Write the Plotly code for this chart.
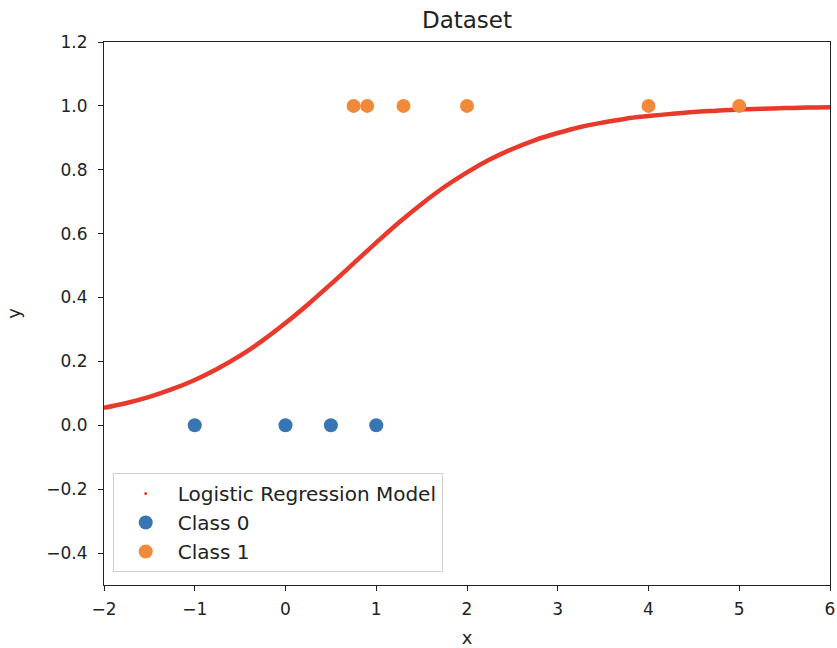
import plotly.graph_objects as go

# Logistic regression curve
curve_x = [-2.0, -1.75, -1.5, -1.25, -1.0, -0.75, -0.5, -0.25, 0.0, 0.25, 0.5, 0.75,
           1.0, 1.25, 1.5, 1.75, 2.0, 2.25, 2.5, 2.75, 3.0, 3.25, 3.5, 3.75,
           4.0, 4.25, 4.5, 4.75, 5.0, 5.25, 5.5, 5.75, 6.0]
curve_y = [0.055, 0.070, 0.089, 0.113, 0.142, 0.177, 0.218, 0.266, 0.320, 0.379, 0.442, 0.507,
           0.572, 0.635, 0.693, 0.746, 0.792, 0.832, 0.865, 0.893, 0.915, 0.934, 0.948, 0.960,
           0.968, 0.975, 0.981, 0.985, 0.989, 0.991, 0.993, 0.995, 0.996]

class0_x = [-1.0, 0.0, 0.5, 1.0]
class0_y = [0, 0, 0, 0]
class1_x = [0.75, 0.9, 1.3, 2.0, 4.0, 5.0]
class1_y = [1, 1, 1, 1, 1, 1]

x_ticks = [-2, -1, 0, 1, 2, 3, 4, 5, 6]
y_ticks = [-0.4, -0.2, 0.0, 0.2, 0.4, 0.6, 0.8, 1.0, 1.2]

RED = "#e8392b"
BLUE = "#3776b2"
ORANGE = "#f18a38"

fig = go.Figure()
fig.add_trace(go.Scatter(x=curve_x, y=curve_y, mode="lines", line=dict(color=RED, width=4.5, shape="spline"),
                         legendgroup="model", showlegend=False, hoverinfo="skip"))
fig.add_trace(go.Scatter(x=curve_x, y=curve_y, mode="markers", marker=dict(color=RED, size=3),
                         legendgroup="model", name="Logistic Regression Model"))
fig.add_trace(go.Scatter(x=class0_x, y=class0_y, mode="markers", marker=dict(color=BLUE, size=14),
                         name="Class 0"))
fig.add_trace(go.Scatter(x=class1_x, y=class1_y, mode="markers", marker=dict(color=ORANGE, size=14),
                         name="Class 1"))

axis_common = dict(showline=True, linecolor="#222", linewidth=1.2, mirror=True, ticks="outside",
                   ticklen=5, tickcolor="#222", showgrid=False, zeroline=False, automargin=False,
                   tickfont=dict(size=17, color="#222"))

fig.update_layout(
    width=837, height=648,
    margin=dict(l=104, r=7, t=42, b=63),
    paper_bgcolor="white", plot_bgcolor="white",
    font=dict(family="DejaVu Sans", color="#222", size=17),
    title=dict(text="Dataset", x=0.5, xref="paper", xanchor="center", y=1 - 20 / 648, yanchor="middle",
               font=dict(size=23)),
    xaxis=dict(range=[-2, 6], tickvals=x_ticks, ticklabelstandoff=3,
               title=dict(text="x", font=dict(size=18), standoff=14), **axis_common),
    yaxis=dict(range=[-0.5, 1.2], tickvals=y_ticks, ticklabelstandoff=7,
               tickformat=".1f", title=dict(text="y", font=dict(size=18), standoff=20), **axis_common),
    legend=dict(x=0.012, y=0.024, xanchor="left", yanchor="bottom", bgcolor="rgba(255,255,255,0.8)",
                bordercolor="#d0d0d0", borderwidth=1, font=dict(size=20), tracegroupgap=0,
                itemsizing="trace", itemwidth=54),
)

fig.write_html("out.html")
